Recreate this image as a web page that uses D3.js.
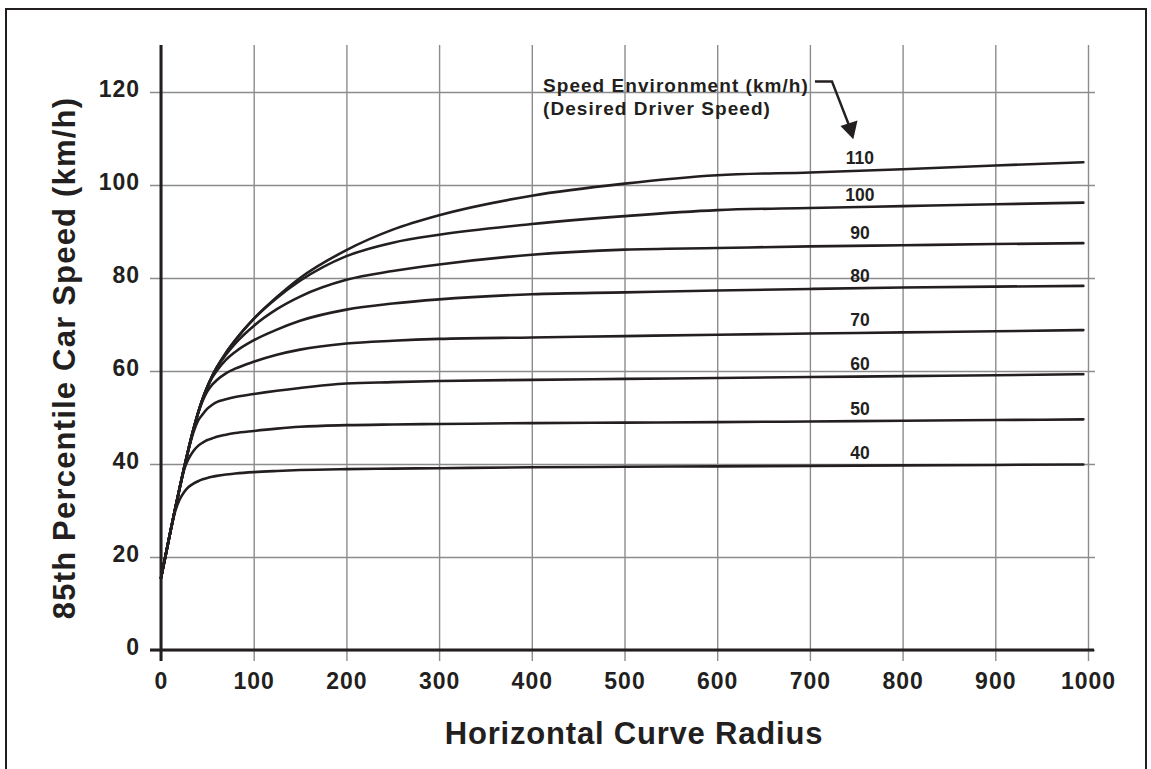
<!DOCTYPE html>
<html>
<head>
<meta charset="utf-8">
<script src="https://cdn.jsdelivr.net/npm/d3@7"></script>
<style>
  html, body { margin: 0; padding: 0; background: #fff; }
  svg { display: block; }
  text { font-family: "Liberation Sans", Arial, Helvetica, sans-serif; font-weight: bold; fill: #231f20; }
</style>
</head>
<body>
<svg id="chart" width="1151" height="769"></svg>
<script>
// Horizontal curve radius samples (m) shared by every speed-environment curve
const radius = [0, 5, 10, 15, 20, 25, 30, 35, 40, 45, 50, 55, 60, 70, 80, 100, 125, 150, 200, 250, 300, 400, 500, 600, 700, 800, 900, 995];

// 85th percentile car speed (km/h) for each desired speed environment
const speed110 = [15.5, 20.4, 25.3, 30.1, 34.75, 39.25, 43.5, 47.45, 51.0, 54.05, 56.6, 58.8, 60.7, 63.9, 66.6, 71.2, 75.9, 80.0, 86.0, 90.4, 93.5, 97.7, 100.3, 102.1, 102.7, 103.4, 104.2, 104.9];
const speed100 = [15.5, 20.4, 25.3, 30.1, 34.75, 39.25, 43.5, 47.45, 51.0, 54.05, 56.6, 58.8, 60.7, 63.9, 66.6, 71.2, 75.7, 79.4, 84.7, 87.6, 89.3, 91.6, 93.3, 94.6, 95.05, 95.45, 95.85, 96.2];
const speed90  = [15.5, 20.4, 25.3, 30.1, 34.75, 39.25, 43.5, 47.45, 51.0, 54.05, 56.6, 58.8, 60.65, 63.5, 65.9, 69.7, 73.3, 76.0, 79.6, 81.5, 82.9, 85.0, 86.1, 86.45, 86.8, 87.05, 87.3, 87.5];
const speed80  = [15.5, 20.4, 25.3, 30.1, 34.75, 39.25, 43.5, 47.45, 51.0, 54.05, 56.5, 58.5, 60.0, 62.4, 64.1, 66.6, 68.9, 70.8, 73.2, 74.5, 75.4, 76.5, 76.9, 77.3, 77.65, 77.95, 78.15, 78.3];
const speed70  = [15.5, 20.4, 25.3, 30.1, 34.75, 39.25, 43.5, 47.45, 50.9, 53.6, 55.6, 57.0, 58.0, 59.5, 60.5, 62.0, 63.5, 64.6, 65.9, 66.5, 66.9, 67.2, 67.5, 67.8, 68.05, 68.3, 68.55, 68.8];
const speed60  = [15.5, 20.4, 25.3, 30.1, 34.75, 39.25, 43.3, 46.8, 49.3, 50.7, 51.9, 52.7, 53.3, 53.9, 54.4, 55.05, 55.75, 56.35, 57.3, 57.6, 57.85, 58.1, 58.3, 58.5, 58.7, 58.9, 59.1, 59.3];
const speed50  = [15.5, 20.4, 25.3, 30.1, 34.6, 38.8, 41.2, 42.8, 43.9, 44.6, 45.15, 45.5, 45.85, 46.3, 46.65, 47.1, 47.6, 48.0, 48.35, 48.5, 48.6, 48.8, 48.9, 49.0, 49.15, 49.3, 49.45, 49.6];
const speed40  = [15.5, 20.4, 25.3, 29.6, 32.3, 34.0, 35.1, 35.8, 36.3, 36.7, 37.0, 37.25, 37.45, 37.75, 37.95, 38.25, 38.5, 38.7, 38.9, 39.0, 39.1, 39.3, 39.4, 39.5, 39.6, 39.7, 39.8, 39.9];

const environments = ["110", "100", "90", "80", "70", "60", "50", "40"];
const seriesValues = [speed110, speed100, speed90, speed80, speed70, speed60, speed50, speed40];

// Axis ticks
const xTicks = [0, 100, 200, 300, 400, 500, 600, 700, 800, 900, 1000];
const yTicks = [0, 20, 40, 60, 80, 100, 120];

// Radius at which the curve labels sit
const labelRadius = 754;

const svg = d3.select("#chart");
const ink = "#231f20";
const gridColor = "#8c8c8c";

// Outer frame
svg.append("rect")
  .attr("x", 6).attr("y", 9)
  .attr("width", 1140).attr("height", 800)
  .attr("fill", "none").attr("stroke", ink).attr("stroke-width", 2);

const x = d3.scaleLinear().domain([0, 1000]).range([161, 1088]);
const y = d3.scaleLinear().domain([0, 120]).range([650, 92]);

const gridTop = 45, gridBottom = 661, gridLeft = 150, gridRight = 1095;

// Vertical grid lines (also form the x tick marks below the axis)
const xGrid = svg.append("g")
  .attr("transform", `translate(0,${gridBottom})`)
  .call(d3.axisBottom(x).tickValues(xTicks).tickSize(-(gridBottom - gridTop)).tickFormat(""));
xGrid.select(".domain").remove();
xGrid.selectAll(".tick line").attr("stroke", gridColor).attr("stroke-width", 1.4);

// Horizontal grid lines (also form the y tick marks left of the axis)
const yGrid = svg.append("g")
  .attr("transform", `translate(${gridLeft},0)`)
  .call(d3.axisLeft(y).tickValues(yTicks).tickSize(-(gridRight - gridLeft)).tickFormat(""));
yGrid.select(".domain").remove();
yGrid.selectAll(".tick line").attr("stroke", gridColor).attr("stroke-width", 1.4);

// Tick labels
const xLabels = svg.append("g")
  .attr("transform", `translate(0,${y(0)})`)
  .call(d3.axisBottom(x).tickValues(xTicks).tickFormat(d3.format("d")).tickSize(0).tickPadding(22.5));
xLabels.select(".domain").remove();
xLabels.selectAll("text")
  .attr("font-size", 23).attr("letter-spacing", 1).attr("fill", ink)
  .style("font-family", "'Liberation Sans', Arial, sans-serif").style("font-weight", "bold");

const yLabels = svg.append("g")
  .attr("transform", `translate(${gridLeft},0)`)
  .call(d3.axisLeft(y).tickValues(yTicks).tickFormat(d3.format("d")).tickSize(0).tickPadding(10));
yLabels.select(".domain").remove();
yLabels.selectAll("text")
  .attr("font-size", 23).attr("letter-spacing", 1).attr("dy", "0.2em").attr("fill", ink)
  .style("font-family", "'Liberation Sans', Arial, sans-serif").style("font-weight", "bold");

// Main axis lines
svg.append("line")
  .attr("x1", x(0)).attr("x2", x(0)).attr("y1", gridTop).attr("y2", gridBottom)
  .attr("stroke", ink).attr("stroke-width", 3);
svg.append("line")
  .attr("x1", gridLeft).attr("x2", gridRight - 1).attr("y1", y(0)).attr("y2", y(0))
  .attr("stroke", ink).attr("stroke-width", 3);

// Speed curves
const line = d3.line()
  .x((d, i) => x(radius[i]))
  .y(d => y(d))
  .curve(d3.curveMonotoneX);

svg.append("g").selectAll("path")
  .data(seriesValues)
  .join("path")
  .attr("d", line)
  .attr("fill", "none")
  .attr("stroke", ink)
  .attr("stroke-width", 2.6)
  .attr("stroke-linejoin", "round")
  .attr("stroke-linecap", "round");

// Curve labels, sitting just above each curve
const speedAt = (vals, r) => {
  const i = d3.bisectRight(radius, r) - 1;
  const t = (r - radius[i]) / (radius[i + 1] - radius[i]);
  return vals[i] + t * (vals[i + 1] - vals[i]);
};
svg.append("g").selectAll("text")
  .data(environments)
  .join("text")
  .attr("x", x(labelRadius))
  .attr("y", (d, i) => y(speedAt(seriesValues[i], labelRadius)) - 6.5)
  .attr("text-anchor", "middle")
  .attr("font-size", 17.5)
  .text(d => d);

// Annotation with pointer arrow
const note = svg.append("g");
note.append("text").attr("x", 543).attr("y", 92)
  .attr("font-size", 19).attr("letter-spacing", 1.05)
  .text("Speed Environment (km/h)");
note.append("text").attr("x", 543).attr("y", 115)
  .attr("font-size", 19).attr("letter-spacing", 1.05)
  .text("(Desired Driver Speed)");
note.append("path")
  .attr("d", "M815,81.5 L832,81.5 L848.5,124")
  .attr("fill", "none").attr("stroke", ink).attr("stroke-width", 2.4)
  .attr("stroke-linejoin", "miter");
note.append("path")
  .attr("d", "M853.3,139.3 L840.5,126 L857.5,120.5 Z")
  .attr("fill", ink);

// Axis titles
svg.append("text")
  .attr("x", 634).attr("y", 744)
  .attr("text-anchor", "middle")
  .attr("font-size", 31).attr("letter-spacing", 0.8)
  .text("Horizontal Curve Radius");

svg.append("text")
  .attr("transform", "translate(75,358) rotate(-90)")
  .attr("text-anchor", "middle")
  .attr("font-size", 31).attr("letter-spacing", 1.2)
  .text("85th Percentile Car Speed (km/h)");
</script>
</body>
</html>
